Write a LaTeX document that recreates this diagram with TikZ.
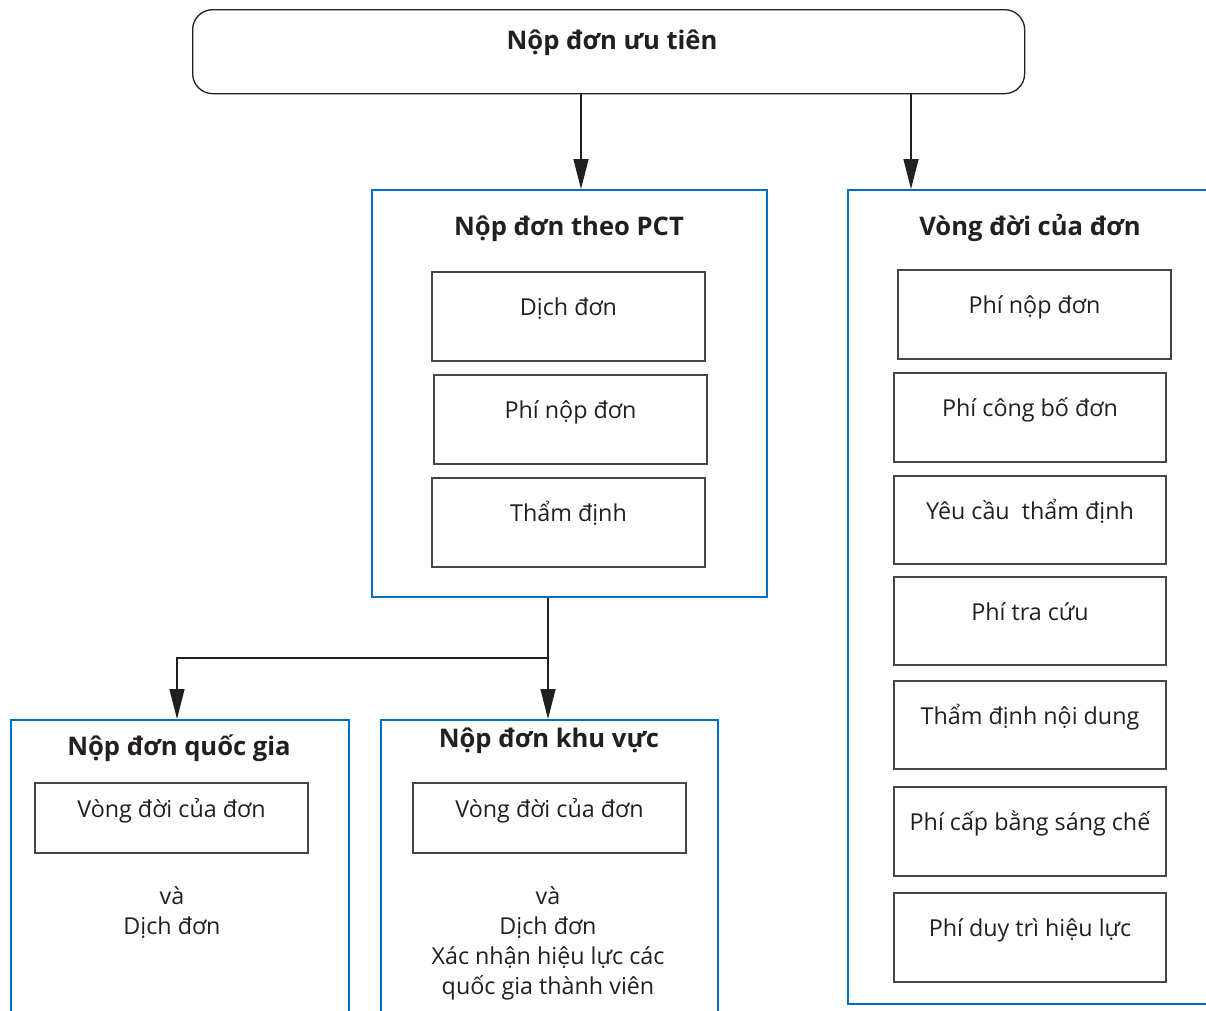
\documentclass[tikz,border=0pt]{standalone}
\usepackage{fontspec}
\setmainfont{Open Sans}
\usetikzlibrary{arrows.meta}
\definecolor{pblue}{RGB}{0,112,190}
\definecolor{ink}{RGB}{35,31,32}
\definecolor{edge}{RGB}{70,70,70}
\tikzset{
  outerbox/.style={draw=pblue, line width=2pt, anchor=north west, inner sep=0pt},
  innerbox/.style={draw=edge, line width=1.3pt, minimum width=273pt, minimum height=89pt,
     inner sep=0pt, text height=8pt, text depth=10pt, font=\fontsize{23.3}{28}\selectfont, text=ink},
  smallbox/.style={innerbox, minimum height=70pt, text height=10pt, text depth=11pt},
  ttl/.style={font=\bfseries\fontsize{25.6}{30}\selectfont, text=ink, anchor=base, inner sep=0pt},
  bodytxt/.style={font=\fontsize{23.3}{30}\selectfont, text=ink, align=center, inner sep=0pt},
  arr/.style={-{Triangle[length=30pt,width=15pt]}, line width=1.3pt, draw=ink},
  conn/.style={line width=1.3pt, draw=ink}
}
\begin{document}
\begin{tikzpicture}[x=1pt,y=-1pt]
\useasboundingbox (0,0) rectangle (1206,1010);
\clip (0,0) rectangle (1206,1010);
\fill[white] (0,0) rectangle (1206,1010);

% top rounded box
\node[draw=ink, line width=1.3pt, rounded corners=20pt, minimum width=832pt, minimum height=84pt,
      anchor=north west, inner sep=0pt] (top) at (192,9) {};
\node[ttl] (toptxt) at (612,49) {Nộp đơn ưu tiên};

% PCT box
\node[outerbox, minimum width=395pt, minimum height=407pt] (pct) at (371,189) {};
\node[ttl] (pcttxt) at (569,235) {Nộp đơn theo PCT};
\node[innerbox] (p1) at (568.5,316.5) {Dịch đơn};
\node[innerbox] (p2) at (570.5,419.5) {Phí nộp đơn};
\node[innerbox] (p3) at (568.5,522.5) {Thẩm định};

% right life-cycle box
\node[outerbox, minimum width=420pt, minimum height=814pt] (life) at (847,189) {};
\node[ttl] (lifetxt) at (1030,235) {Vòng đời của đơn};
\node[innerbox] (l1) at (1034.5,314.5) {Phí nộp đơn};
\node[innerbox, minimum width=272pt] (l2) at (1030,417.5) {Phí công bố đơn};
\node[innerbox, minimum width=272pt, minimum height=88pt] (l3) at (1030,520) {Yêu cầu\ \ thẩm định};
\node[innerbox, minimum width=272pt, minimum height=88pt] (l4) at (1030,621) {Phí tra cứu};
\node[innerbox, minimum width=272pt, minimum height=88pt] (l5) at (1030,725) {Thẩm định nội dung};
\node[innerbox, minimum width=272pt] (l6) at (1030,831.5) {Phí cấp bằng sáng chế};
\node[innerbox, minimum width=272pt] (l7) at (1030,937.5) {Phí duy trì hiệu lực};

% national box
\node[outerbox, minimum width=338pt, minimum height=340pt] (nat) at (10,719) {};
\node[ttl] (nattxt) at (179,755) {Nộp đơn quốc gia};
\node[smallbox] (n1) at (171.5,818) {Vòng đời của đơn};
\node[bodytxt] (n2) at (172,913) {và\\Dịch đơn};

% regional box
\node[outerbox, minimum width=337pt, minimum height=340pt] (reg) at (380,719) {};
\node[ttl] (regtxt) at (549,747) {Nộp đơn khu vực};
\node[smallbox] (r1) at (549.5,818) {Vòng đời của đơn};
\node[bodytxt] (r2) at (548,943) {và\\Dịch đơn\\Xác nhận hiệu lực các\\quốc gia thành viên};

% connectors
\draw[arr] (top.south -| 581,0) -- (pct.north -| 581,0);
\draw[arr] (top.south -| 911,0) -- (life.north -| 911,0);
\coordinate (j) at (548,658);
\draw[arr] (pct.south -| j) -- (j) -- (reg.north -| j);
\draw[arr] (j) -| ([xshift=-3pt]nat.north);
\end{tikzpicture}
\end{document}
